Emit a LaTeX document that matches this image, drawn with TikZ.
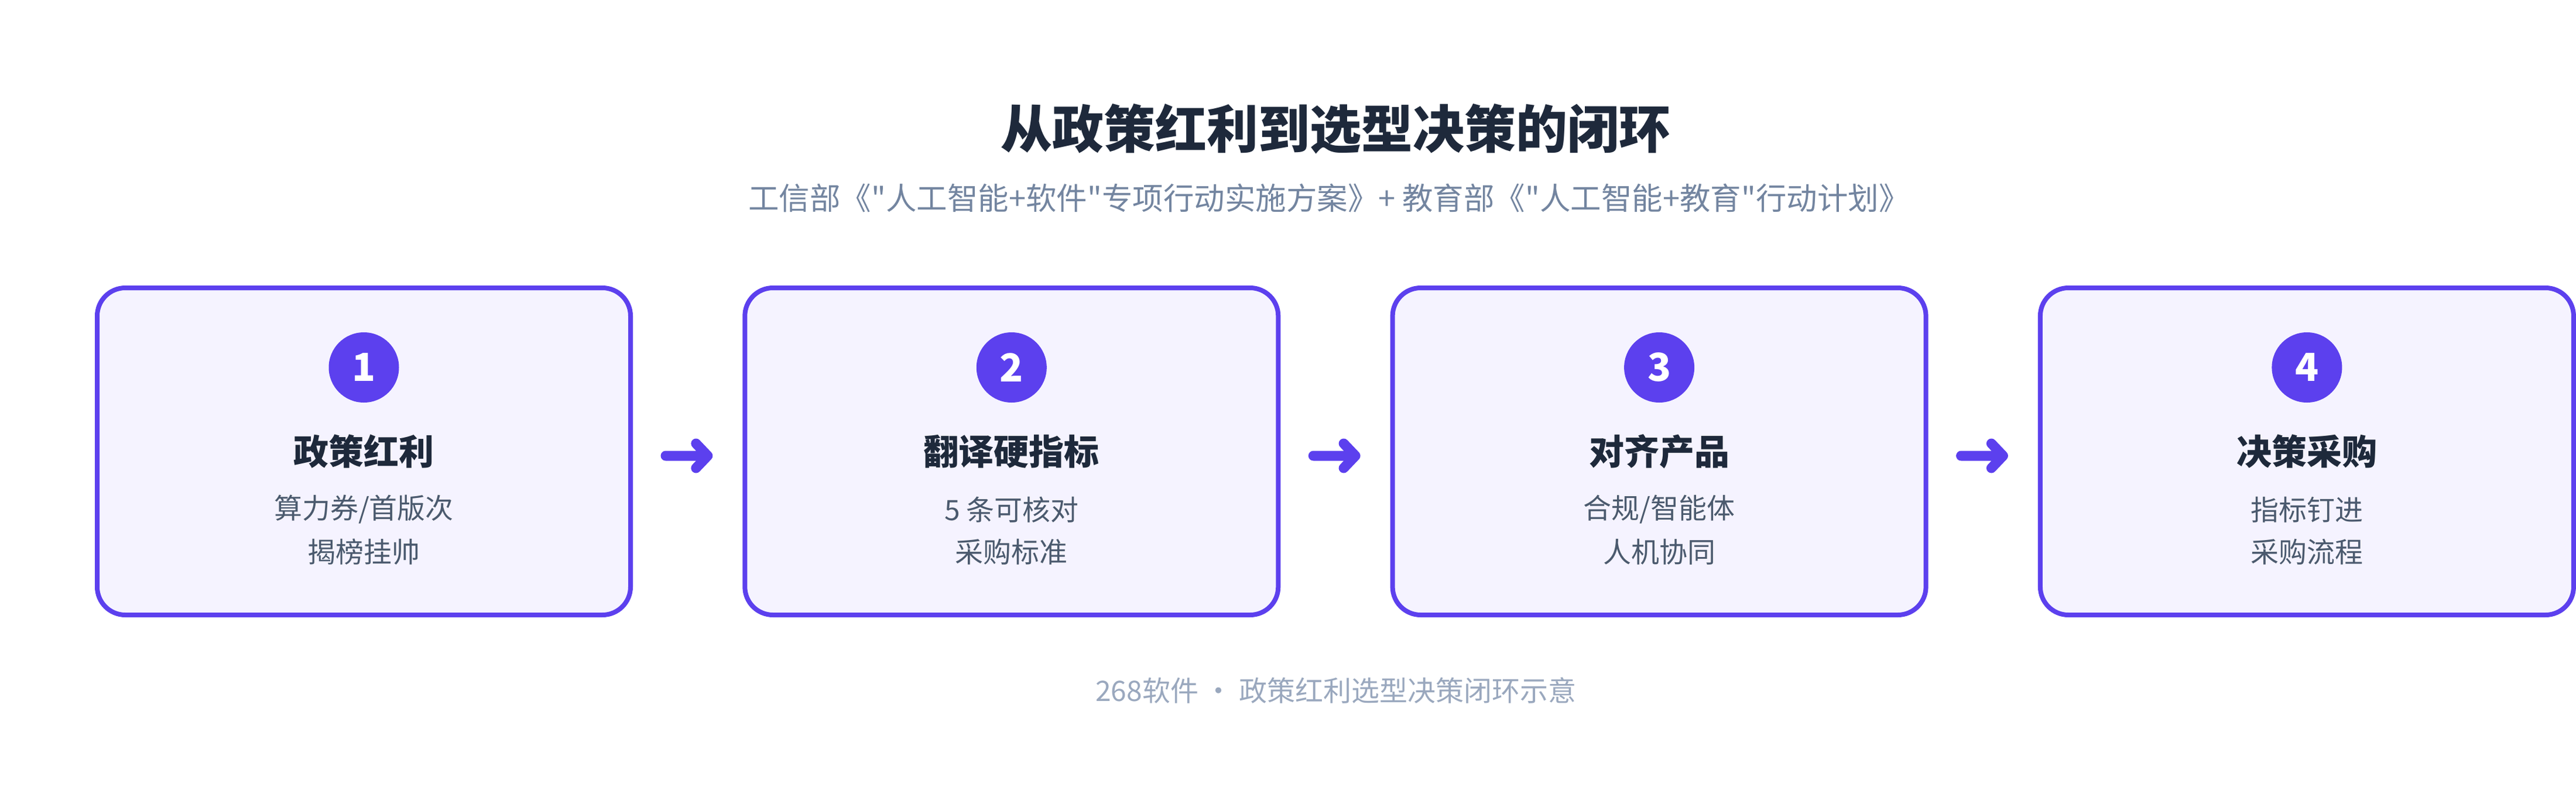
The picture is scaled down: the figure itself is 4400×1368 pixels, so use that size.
\documentclass[tikz,border=0pt]{standalone}
\usepackage{fontspec}
\setmainfont{Noto Sans CJK SC}
\newfontfamily\plaincjk{Noto Sans CJK SC}
\usetikzlibrary{calc}
\definecolor{accent}{HTML}{5C40EE}
\definecolor{boxfill}{HTML}{F5F3FF}
\definecolor{titlec}{HTML}{1E293B}
\definecolor{subtitlec}{HTML}{7385A0}
\definecolor{linec}{HTML}{4B5A6E}
\definecolor{footc}{HTML}{9AA8BE}
\begin{document}
\begin{tikzpicture}[x=1pt,y=-1pt,
  stepbox/.style={draw=accent, fill=boxfill, line width=8pt, rounded corners=48pt,
    minimum width=911pt, minimum height=559pt, inner sep=0pt, outer sep=4pt},
  badge/.style={circle, fill=accent, minimum size=120pt, inner sep=0pt, text=white,
    font=\fontsize{66}{66}\selectfont\bfseries},
  boxtitle/.style={text=titlec, inner sep=0pt, font=\fontsize{60}{60}\selectfont\bfseries},
  boxline/.style={text=linec, inner sep=0pt, font=\fontsize{48}{48}\selectfont},
  flow/.style={draw=accent, line width=17pt, line cap=round, line join=round}]
\useasboundingbox (0,0) rectangle (4400,1368);
\fill[white] (0,0) rectangle (4400,1368);
% heading
\node[text=titlec, inner sep=0pt, font=\fontsize{88}{88}\selectfont\bfseries] (title) at (2281,220) {从政策红利到选型决策的闭环};
\node[text=subtitlec, inner sep=0pt, font=\plaincjk\fontsize{52.5}{52.5}\selectfont] (subtitle) at (2270,339) {工信部《"人工智能+软件"专项行动实施方案》+ 教育部《"人工智能+教育"行动计划》};
% boxes
\node[stepbox] (b1) at (621.5,771.5) {};
\node[stepbox] (b2) at (1727.8,771.5) {};
\node[stepbox] (b3) at (2834.1,771.5) {};
\node[stepbox] (b4) at (3940.4,771.5) {};
% box 1
\node[badge] (n1) at ($(b1.center)+(0,-143.5)$) {1};
\node[boxtitle] (t1) at ($(b1.center)+(0,0)$) {政策红利};
\node[boxline] (l1a) at ($(b1.center)+(0,99.5)$) {算力券/首版次};
\node[boxline] (l1b) at ($(b1.center)+(0,171.5)$) {揭榜挂帅};
% box 2
\node[badge] (n2) at ($(b2.center)+(0,-143.5)$) {2};
\node[boxtitle] (t2) at ($(b2.center)+(0,0)$) {翻译硬指标};
\node[boxline] (l2a) at ($(b2.center)+(0,99.5)$) {5 条可核对};
\node[boxline] (l2b) at ($(b2.center)+(0,171.5)$) {采购标准};
% box 3
\node[badge] (n3) at ($(b3.center)+(0,-143.5)$) {3};
\node[boxtitle] (t3) at ($(b3.center)+(0,0)$) {对齐产品};
\node[boxline] (l3a) at ($(b3.center)+(0,99.5)$) {合规/智能体};
\node[boxline] (l3b) at ($(b3.center)+(0,171.5)$) {人机协同};
% box 4
\node[badge] (n4) at ($(b4.center)+(0,-143.5)$) {4};
\node[boxtitle] (t4) at ($(b4.center)+(0,0)$) {决策采购};
\node[boxline] (l4a) at ($(b4.center)+(0,99.5)$) {指标钉进};
\node[boxline] (l4b) at ($(b4.center)+(0,171.5)$) {采购流程};
% arrows
\foreach \a/\b in {b1/b2, b2/b3, b3/b4}{
  \coordinate (s-\a) at ($(\a.east)+(56,7.5)$);
  \coordinate (e-\a) at ($(\b.west)+(-59.5,7.5)$);
  \draw[flow] (s-\a) -- (e-\a)
    ($(e-\a)+(-20,-21)$) -- (e-\a) -- ($(e-\a)+(-20,21)$);
}
% footer
\node[text=footc, inner sep=0pt, font=\fontsize{48}{48}\selectfont] (foot) at (2282,1180) {268软件 · 政策红利选型决策闭环示意};
\end{tikzpicture}
\end{document}
